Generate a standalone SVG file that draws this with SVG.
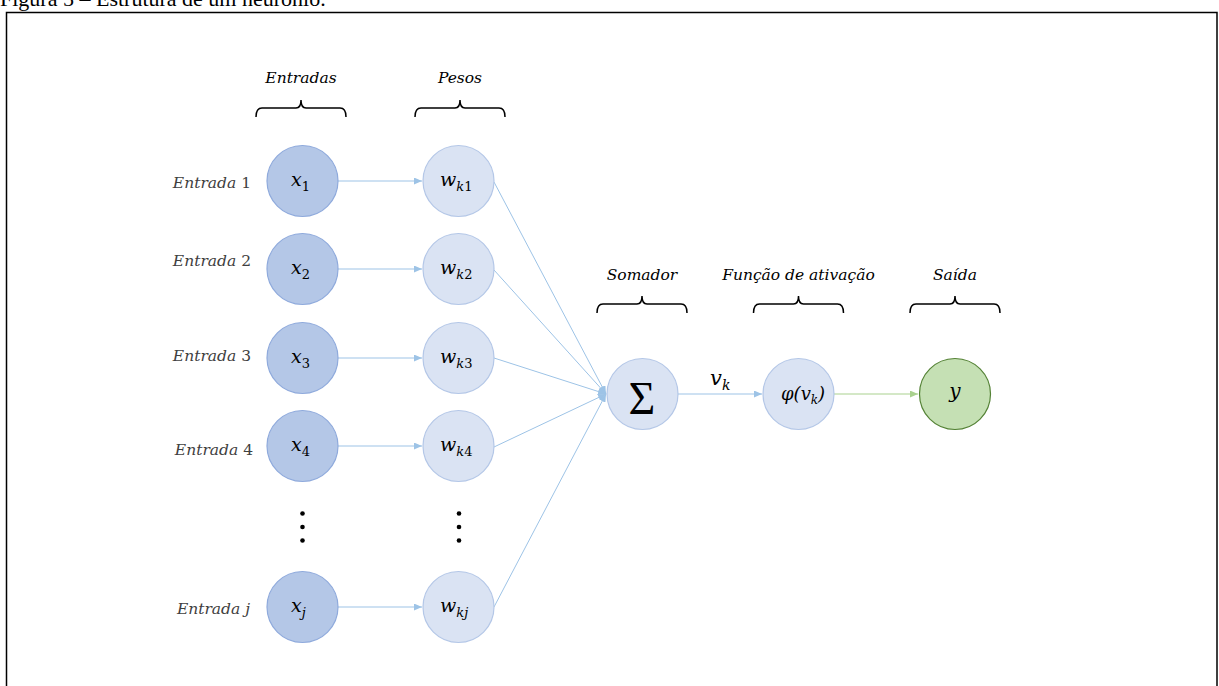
<svg xmlns="http://www.w3.org/2000/svg" width="1219" height="686" viewBox="0 0 1219 686">
<style>
.title{font-family:"Liberation Serif","Times New Roman",serif;font-size:22px;fill:#000}
.hdr{font-family:"DejaVu Serif",serif;font-style:italic;font-size:15.5px;fill:#000;text-anchor:middle}
.lbl{font-family:"DejaVu Serif",serif;font-style:italic;font-size:15.5px;fill:#404040;text-anchor:end}
.up{font-style:normal}
.m{font-family:"DejaVu Serif",serif;font-style:italic;font-size:19px;fill:#000}
.sub{font-size:13px}
.xn{fill:#B4C7E7;stroke:#8FAADC;stroke-width:1.2}
.wn{fill:#DAE3F3;stroke:#B4C7E7;stroke-width:1.2}
.yn{fill:#C5E0B4;stroke:#548235;stroke-width:1.2}
.br{fill:none;stroke:#000;stroke-width:1.5}
.c{fill:none;stroke:#9DC3E6;stroke-width:1}
.cg{fill:none;stroke:#A9D18E;stroke-width:1}
</style>
<defs>
<marker id="ab" markerWidth="8" markerHeight="7" refX="8" refY="3.5" orient="auto" markerUnits="userSpaceOnUse"><path d="M0,0 L8,3.5 L0,7 Z" fill="#9DC3E6"/></marker>
<marker id="ag" markerWidth="8" markerHeight="7" refX="8" refY="3.5" orient="auto" markerUnits="userSpaceOnUse"><path d="M0,0 L8,3.5 L0,7 Z" fill="#A9D18E"/></marker>
<path id="brace" d="M-45,9 Q-45,0 -39,0 L-5,0 Q0,0 0,-8 Q0,0 5,0 L39,0 Q45,0 45,9" />
</defs>
<text class="title" x="0" y="6">Figura 5 – Estrutura de um neurônio.</text>
<path d="M6.5,700 V12.5 H1217 V700" fill="none" stroke="#000" stroke-width="1.5"/>

<g id="headers">
<text class="hdr" x="301" y="83">Entradas</text>
<use href="#brace" class="br" x="301" y="108"/>
<text class="hdr" x="460" y="83">Pesos</text>
<use href="#brace" class="br" x="460" y="108"/>
<text class="hdr" x="642" y="280">Somador</text>
<use href="#brace" class="br" x="642" y="304"/>
<text class="hdr" x="798.5" y="280">Função de ativação</text>
<use href="#brace" class="br" x="798.5" y="304"/>
<text class="hdr" x="955" y="280">Saída</text>
<use href="#brace" class="br" x="955" y="304"/>
</g>

<g id="labels">
<text class="lbl" x="251" y="188">Entrada<tspan class="up"> 1</tspan></text>
<text class="lbl" x="251" y="266">Entrada<tspan class="up"> 2</tspan></text>
<text class="lbl" x="251" y="361">Entrada<tspan class="up"> 3</tspan></text>
<text class="lbl" x="253" y="455">Entrada<tspan class="up"> 4</tspan></text>
<text class="lbl" x="250" y="614">Entrada j</text>
</g>

<g id="connectors">
<line class="c" x1="338" y1="181" x2="422" y2="181" marker-end="url(#ab)"/>
<line class="c" x1="338" y1="269" x2="422" y2="269" marker-end="url(#ab)"/>
<line class="c" x1="338" y1="358" x2="422" y2="358" marker-end="url(#ab)"/>
<line class="c" x1="338" y1="446" x2="422" y2="446" marker-end="url(#ab)"/>
<line class="c" x1="338" y1="607" x2="422" y2="607" marker-end="url(#ab)"/>
<line class="c" x1="494" y1="182" x2="606" y2="394" marker-end="url(#ab)"/>
<line class="c" x1="494" y1="270" x2="606" y2="394" marker-end="url(#ab)"/>
<line class="c" x1="494" y1="358" x2="606" y2="394" marker-end="url(#ab)"/>
<line class="c" x1="494" y1="447" x2="606" y2="394" marker-end="url(#ab)"/>
<line class="c" x1="494" y1="607" x2="606" y2="394" marker-end="url(#ab)"/>
<line class="c" x1="678" y1="394" x2="762" y2="394" marker-end="url(#ab)"/>
<line class="cg" x1="834" y1="394" x2="918" y2="394" marker-end="url(#ag)"/>
<text class="m" x="710" y="385" style="font-size:21px">v<tspan class="sub" dy="5" style="font-size:14px">k</tspan></text>
</g>

<g id="node-x1"><circle class="xn" cx="302.5" cy="181" r="35.5"/><text class="m" x="291" y="186">x<tspan class="sub up" dy="5">1</tspan></text></g>
<g id="node-x2"><circle class="xn" cx="302.5" cy="269" r="35.5"/><text class="m" x="291" y="274">x<tspan class="sub up" dy="5">2</tspan></text></g>
<g id="node-x3"><circle class="xn" cx="302.5" cy="358" r="35.5"/><text class="m" x="291" y="363">x<tspan class="sub up" dy="5">3</tspan></text></g>
<g id="node-x4"><circle class="xn" cx="302.5" cy="446" r="35.5"/><text class="m" x="291" y="451">x<tspan class="sub up" dy="5">4</tspan></text></g>
<g id="node-xj"><circle class="xn" cx="302.5" cy="607" r="35.5"/><text class="m" x="291" y="612">x<tspan class="sub" dy="5">j</tspan></text></g>

<g id="dots-x"><circle cx="302.5" cy="513.5" r="2.3"/><circle cx="302.5" cy="527" r="2.3"/><circle cx="302.5" cy="540.5" r="2.3"/></g>
<g id="dots-w"><circle cx="459" cy="513.5" r="2.3"/><circle cx="459" cy="527" r="2.3"/><circle cx="459" cy="540.5" r="2.3"/></g>

<g id="node-wk1"><circle class="wn" cx="458.5" cy="181" r="35.5"/><text class="m" x="440" y="186">w<tspan class="sub" dy="5">k<tspan class="up">1</tspan></tspan></text></g>
<g id="node-wk2"><circle class="wn" cx="458.5" cy="269" r="35.5"/><text class="m" x="440" y="274">w<tspan class="sub" dy="5">k<tspan class="up">2</tspan></tspan></text></g>
<g id="node-wk3"><circle class="wn" cx="458.5" cy="358" r="35.5"/><text class="m" x="440" y="363">w<tspan class="sub" dy="5">k<tspan class="up">3</tspan></tspan></text></g>
<g id="node-wk4"><circle class="wn" cx="458.5" cy="446" r="35.5"/><text class="m" x="440" y="451">w<tspan class="sub" dy="5">k<tspan class="up">4</tspan></tspan></text></g>
<g id="node-wkj"><circle class="wn" cx="458.5" cy="607" r="35.5"/><text class="m" x="440" y="612">w<tspan class="sub" dy="5">kj</tspan></text></g>

<g id="node-sum"><circle class="wn" cx="642.5" cy="394" r="35.5"/><text x="642" y="414" text-anchor="middle" style="font-family:'Liberation Serif',serif;font-size:46px;fill:#000">Σ</text></g>
<g id="node-phi"><circle class="wn" cx="798.5" cy="394" r="35.5"/><text class="m" x="781" y="400" style="font-size:18px">φ(v<tspan class="sub" dy="4" style="font-size:12px">k</tspan><tspan dy="-4">)</tspan></text></g>
<g id="node-y"><circle class="yn" cx="955" cy="394" r="35.5"/><text class="m" x="955" y="398" text-anchor="middle" style="font-size:20px">y</text></g>
</svg>
